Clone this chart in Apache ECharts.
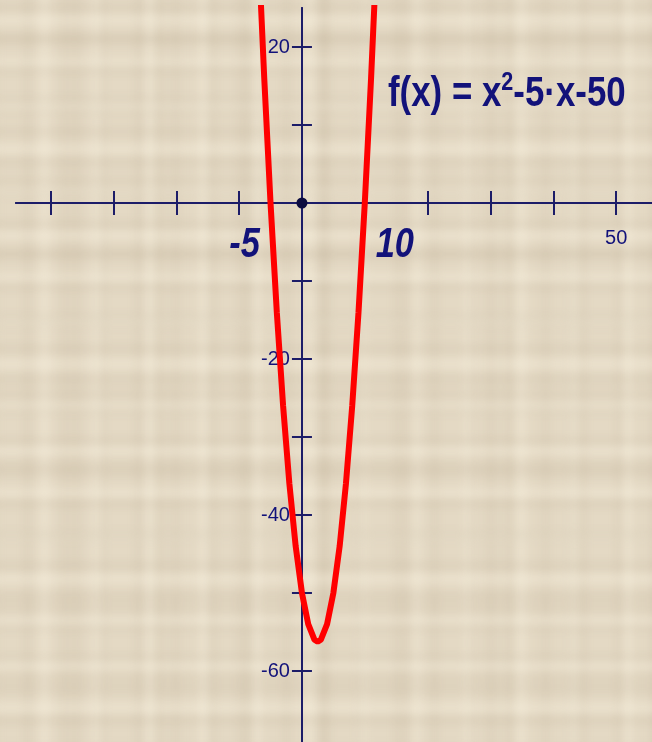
<!DOCTYPE html>
<html>
<head>
<meta charset="utf-8">
<script src="https://cdn.jsdelivr.net/npm/echarts@6/dist/echarts.min.js"></script>
<style>
  html, body { margin: 0; padding: 0; }
  #wrap { position: relative; width: 652px; height: 742px; overflow: hidden; background: #e4d9c4; }
  /* blurred plaid paper texture */
  #paper {
    position: absolute; left: -12px; top: -12px; right: -12px; bottom: -12px;
    filter: blur(5px);
    background-image:
      repeating-linear-gradient(0deg, rgba(140,120,90,0.13) 0 5px, transparent 5px 31px),
      repeating-linear-gradient(0deg, rgba(255,249,232,0.40) 0 6px, transparent 6px 43px),
      repeating-linear-gradient(0deg, rgba(150,130,100,0.08) 0 9px, transparent 9px 71px),
      repeating-linear-gradient(90deg, rgba(140,120,90,0.10) 0 5px, transparent 5px 37px),
      repeating-linear-gradient(90deg, rgba(255,249,232,0.35) 0 7px, transparent 7px 53px),
      repeating-linear-gradient(90deg, rgba(150,130,100,0.07) 0 10px, transparent 10px 83px);
  }
  #chart { position: absolute; left: 0; top: 0; width: 652px; height: 742px; }
</style>
</head>
<body>
<div id="wrap">
  <div id="paper"></div>
  <div id="chart"></div>
</div>
<script>
// curve points
const xs = [-7, -6, -5, -4, -3, -2, -1, 0, 1, 2, 2.5, 3, 4, 5, 6, 7, 8, 9, 10, 11, 12]
const ys = [34, 16, 0, -14, -26, -36, -44, -50, -54, -56, -56.25, -56, -54, -50, -44, -36, -26, -14, 0, 16, 34]
const roots = [-5, 10]
const xTicks = [-40, -30, -20, -10, 10, 20, 30, 40, 50]
const xLabels = [50]
const yTicks = [20, 10, -10, -20, -30, -40, -50, -60]
const yLabels = [20, -20, -40, -60]
const formula = 'f(x) = x{sup|2}-5·x-50'

const navy = '#1c1c68'
const textNavy = '#12127a'
const sans = '"Liberation Sans", Arial, sans-serif'

const W = 652, H = 742
const grid = { left: 16, right: 0, top: 8, bottom: 0 }
const xRange = { min: -45.5, max: 55.7 }
const yRange = { min: -69.1, max: 25 }

// where the zero lines fall inside the grid, so the axes can be shifted there
const gw = W - grid.left - grid.right
const gh = H - grid.top - grid.bottom
const zeroX = grid.left + (0 - xRange.min) / (xRange.max - xRange.min) * gw
const zeroY = grid.top + (yRange.max - 0) / (yRange.max - yRange.min) * gh

function xAxisOf(inside, withLabels) {
  return {
    type: 'value',
    position: 'bottom',
    offset: -(H - grid.bottom - zeroY),
    min: xRange.min,
    max: xRange.max,
    axisLine: { onZero: false, lineStyle: { color: navy, width: 2 } },
    axisTick: { show: true, inside: inside, length: 12, customValues: xTicks, lineStyle: { color: navy, width: 2 } },
    axisLabel: withLabels
      ? { customValues: xLabels, margin: 25, color: textNavy, fontSize: 20, fontFamily: sans }
      : { show: false },
    splitLine: { show: false }
  }
}

function yAxisOf(inside, withLabels) {
  return {
    type: 'value',
    position: 'left',
    offset: -(zeroX - grid.left),
    min: yRange.min,
    max: yRange.max,
    axisLine: { onZero: false, lineStyle: { color: navy, width: 2 } },
    axisTick: { show: true, inside: inside, length: 10, customValues: yTicks, lineStyle: { color: navy, width: 2 } },
    axisLabel: withLabels
      ? { customValues: yLabels, margin: 12, color: textNavy, fontSize: 20, fontFamily: sans }
      : { show: false },
    splitLine: { show: false }
  }
}

const chart = echarts.init(document.getElementById('chart'))

chart.setOption({
  backgroundColor: 'transparent',
  animation: false,
  grid: Object.assign({ outerBoundsMode: 'none', containLabel: false }, grid),
  xAxis: [xAxisOf(false, true), xAxisOf(true, false)],
  yAxis: [yAxisOf(false, true), yAxisOf(true, false)],
  series: [
    {
      type: 'line',
      data: xs.map((x, i) => [x, ys[i]]),
      showSymbol: false,
      clip: true,
      lineStyle: { color: '#ff0000', width: 6 },
      z: 3
    },
    {
      type: 'scatter',
      data: [[0, 0]],
      symbolSize: 11,
      itemStyle: { color: '#0c0c40', opacity: 1 },
      z: 4
    }
  ]
})

// root annotations and the formula, placed from the axes
const rootShift = [[-26, 42], [30, 42]]
const graphics = roots.map((r, i) => {
  const p = chart.convertToPixel({ xAxisIndex: 0, yAxisIndex: 0 }, [r, 0])
  return {
    type: 'text',
    x: p[0] + rootShift[i][0],
    y: p[1] + rootShift[i][1],
    scaleX: 0.82,
    z: 10,
    style: {
      text: String(r),
      font: 'italic bold 42px ' + sans,
      fill: textNavy,
      align: 'center',
      verticalAlign: 'middle'
    }
  }
})
graphics.push({
  type: 'text',
  x: 388,
  y: 70,
  scaleX: 0.83,
  z: 10,
  style: {
    text: formula,
    font: 'bold 42px ' + sans,
    fill: textNavy,
    align: 'left',
    verticalAlign: 'top',
    lineHeight: 48,
    rich: {
      sup: { fontSize: 26, fontWeight: 'bold', fontFamily: sans, fill: textNavy, verticalAlign: 'top', lineHeight: 26 }
    }
  }
})
chart.setOption({ graphic: graphics })
</script>
</body>
</html>
